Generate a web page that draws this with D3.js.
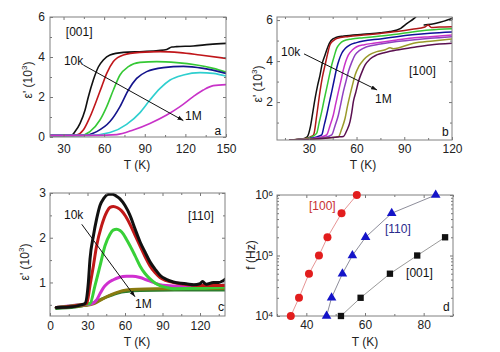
<!DOCTYPE html>
<html><head><meta charset="utf-8">
<script src="https://cdn.jsdelivr.net/npm/d3@7"></script>
<style>body{margin:0;background:#fff}svg{display:block;font-family:"Liberation Sans",Arial,sans-serif}</style>
</head><body><script>
// ---------- DATA ----------
// Panel a: [001], eps' (10^3) vs T (K), frequencies 10k -> 1M
const a001_f1 = [[20,0.08],[36,0.09],[38.5,0.27],[42.2,0.68],[45.9,1.35],[48.3,2.0],[52,2.85],[55.7,3.5],[59.4,3.85],[64.3,4.1],[74.2,4.23],[89,4.27],[100,4.32],[106.2,4.38],[110,4.5],[113.5,4.52],[125.8,4.55],[138.1,4.63],[150,4.68]];
const a001_f2 = [[20,0.08],[37,0.08],[39.7,0.1],[44.6,0.35],[49.5,1.0],[54.5,1.85],[58.2,2.52],[61.9,3.18],[66.8,3.77],[74.2,4.1],[86.5,4.23],[101.3,4.27],[116,4.22],[130.8,4.1],[150,3.93]];
const a001_f3 = [[20,0.08],[42.2,0.08],[49.5,0.27],[56.9,0.85],[61.9,1.52],[66.8,2.35],[71.7,3.1],[77.9,3.52],[86.5,3.73],[98.8,3.77],[113.5,3.72],[128.3,3.6],[140.6,3.43],[150,3.25]];
const a001_f4 = [[20,0.08],[44.6,0.08],[54.5,0.27],[64.3,0.77],[71.7,1.52],[77.9,2.35],[84,2.93],[91.4,3.27],[103.7,3.47],[118.5,3.53],[133.3,3.43],[150,3.18]];
const a001_f5 = [[20,0.08],[49.5,0.08],[64.3,0.22],[76.6,0.63],[86.5,1.22],[93.8,1.85],[101.3,2.43],[108.7,2.85],[118.5,3.1],[130.8,3.22],[140.6,3.18],[150,3.05]];
const a001_f6 = [[20,0.08],[54.5,0.08],[69.3,0.12],[81.5,0.35],[93.8,0.68],[106.2,1.1],[116,1.52],[125.8,2.02],[133.2,2.35],[140.6,2.57],[150,2.62]];

// Panel b: [100]
const b100_f1 = [[18,0.15],[26,0.2],[29,0.3],[31,0.8],[32.5,1.5],[34,2.2],[35.5,2.8],[37,3.3],[38.5,3.9],[40.2,4.3],[42,4.7],[44,5.0],[47,5.15],[52,5.22],[64,5.31],[75,5.38],[81,5.44],[87.8,5.6],[92,5.85],[96.2,6.08],[99,6.3],null,[102.5,5.76],[110,5.85],[115,5.95],[120,6.08]];
const b100_f2 = [[18,0.15],[28,0.22],[31,0.3],[33,0.4],[35,1.37],[37,2.5],[38.5,3.2],[40.2,3.8],[41.8,4.35],[43.3,4.8],[45.5,5.0],[47.5,5.1],[55,5.2],[64.3,5.27],[75,5.35],[85.3,5.44],[95,5.55],[103,5.66],[105,5.76],[107,5.64],[112,5.66],[120,5.68]];
const b100_f3 = [[18,0.15],[30,0.25],[33,0.35],[35,0.48],[36.5,1.0],[38.1,1.53],[39.6,2.1],[41.2,2.67],[42.8,3.25],[44.4,3.81],[46,4.25],[47.5,4.62],[49.5,4.85],[51.7,4.98],[57,5.08],[64.3,5.14],[75,5.22],[85.3,5.31],[95,5.42],[106,5.52],[120,5.58]];
const b100_f4 = [[18,0.15],[30,0.22],[35,0.3],[38.1,0.4],[39.6,0.85],[41.2,1.37],[42.8,1.95],[44.4,2.51],[46,3.1],[47.5,3.65],[49,4.05],[50.7,4.38],[53,4.62],[55.9,4.79],[60,4.9],[64.3,4.98],[75,5.08],[85.3,5.19],[95,5.28],[106.2,5.36],[120,5.42]];
const b100_f5 = [[18,0.15],[30,0.2],[38,0.3],[41.2,0.4],[43.3,0.85],[45.4,1.37],[47,1.95],[48.6,2.51],[50.2,3.05],[51.7,3.57],[53.3,4.0],[54.9,4.3],[57.5,4.55],[60.1,4.7],[65,4.8],[70.6,4.87],[85.3,5.03],[95,5.12],[106.2,5.19],[120,5.27]];
const b100_f6 = [[18,0.15],[30,0.2],[40,0.28],[44.4,0.4],[46.5,0.85],[48.6,1.37],[50.2,1.95],[51.7,2.51],[53.3,3.0],[54.9,3.49],[57,3.95],[59.1,4.3],[62,4.52],[66.4,4.7],[75,4.83],[85.3,4.95],[95,5.03],[106.2,5.11],[120,5.19]];
const b100_f7 = [[18,0.15],[30,0.2],[42,0.25],[48.6,0.31],[50.7,0.7],[52.8,1.21],[54.3,1.8],[55.9,2.35],[57.5,2.85],[59.1,3.32],[61.5,3.75],[64.3,4.05],[68,4.3],[72.7,4.46],[78,4.55],[81.1,4.65],[83,4.6],[95.8,4.87],[108,4.98],[120,5.08]];
const b100_f8 = [[18,0.15],[30,0.18],[42,0.25],[48,0.3],[51.7,0.32],[53.8,0.6],[55.9,1.05],[57,1.5],[58,2.02],[59.6,2.5],[61.2,3.0],[63.3,3.45],[65.4,3.81],[68.5,4.1],[72.7,4.3],[78,4.42],[85.3,4.54],[95,4.66],[106.2,4.79],[120,4.87]];

// Panel c: [110]
const c110_f1 = [[5,0.44],[15,0.45],[25,0.5],[28,0.53],[30.7,1.0],[32,1.52],[34.7,2.04],[37.3,2.42],[40,2.72],[43,2.88],[47,2.97],[50,2.97],[53,2.93],[56,2.87],[60,2.72],[64,2.5],[68,2.2],[72,1.91],[76,1.68],[80,1.46],[84,1.3],[88,1.16],[93,1.07],[98.7,1.01],[105,0.98],[109,0.97],[115,0.95],[120,0.97],[122,1.02],[125,0.96],[130.7,1.0],[135,1.0],[140,1.07]];
const c110_f2 = [[5,0.44],[25,0.5],[29.3,0.53],[32,0.93],[34.7,1.37],[37.3,1.82],[41.3,2.27],[45.3,2.57],[48,2.68],[50.7,2.7],[54,2.67],[57.3,2.6],[60.5,2.48],[64,2.3],[68,2.06],[72,1.82],[76,1.58],[80,1.37],[84,1.22],[88,1.11],[93,1.04],[98.7,1.0],[110,0.95],[125,0.93],[140,0.93]];
const c110_f3 = [[5,0.44],[25,0.5],[32,0.53],[36,0.93],[40,1.37],[44,1.82],[48,2.08],[50.5,2.17],[53.3,2.19],[56,2.16],[58.7,2.08],[61,1.97],[64,1.82],[68,1.6],[72,1.37],[76,1.2],[80,1.08],[84,0.99],[88,0.93],[93,0.89],[98.7,0.86],[120,0.87],[140,0.9]];
const c110_f4 = [[5,0.44],[25,0.5],[32,0.51],[37.3,0.61],[40,0.75],[42.7,0.88],[46,0.98],[50.7,1.06],[55,1.11],[61.3,1.14],[66,1.14],[72,1.11],[77,1.06],[82.7,1.0],[88,0.95],[93.3,0.93],[109,0.91],[140,0.91]];
const c110_f5 = [[5,0.44],[25,0.48],[30,0.49],[34.7,0.52],[40,0.6],[45.3,0.68],[50,0.74],[55,0.79],[61.3,0.83],[70,0.85],[90,0.86],[140,0.87]];
const c110_f6 = [[5,0.42],[20,0.45],[29.3,0.5],[35,0.55],[40,0.61],[45,0.67],[50.7,0.73],[55,0.77],[61.3,0.8],[72,0.82],[100,0.83],[140,0.83]];

// Panel d: f (Hz) vs T (K) of the peak
const dFreq = [1e4, 2e4, 5e4, 1e5, 2e5, 5e5, 1e6];
const d100_T = [34.7, 37.5, 40.9, 44.3, 47.2, 52.0, 57.2];
const d110_T = [46.9, 48.6, 52.3, 55.7, 60.2, 69.1, 84.1];
const d001_T = [51.8, 58.5, 68.5, 77.8, 87.3];

// tick values
const aXTicks = [30,60,90,120,150], aYTicks = [0,2,4,6];
const bXTicks = [30,60,90,120], bYTicks = [2,4,6];
const cXTicks = [0,30,60,90,120], cYTicks = [1,2,3];
const dXTicks = [40,60,80], dYTicks = [1e4,1e5,1e6];

// ---------- DRAWING ----------
const FONT = '"Liberation Sans",Arial,sans-serif';
const svg = d3.select('body').append('svg').attr('width',500).attr('height',352);
const defs = svg.append('defs');
defs.append('marker').attr('id','arr').attr('viewBox','0 0 10 10').attr('refX',10).attr('refY',5)
  .attr('markerWidth',6).attr('markerHeight',6).attr('orient','auto')
  .append('path').attr('d','M0,1.5L10,5L0,8.5Z').attr('fill','#111');

function panel(o){
  const x = d3.scaleLinear().domain(o.xd).range([o.l,o.r]);
  const y = (o.log ? d3.scaleLog() : d3.scaleLinear()).domain(o.yd).range([o.b,o.t]);
  const g = svg.append('g');
  const id = 'clip' + o.name;
  defs.append('clipPath').attr('id',id).append('rect')
    .attr('x',o.l).attr('y',o.t).attr('width',o.r-o.l).attr('height',o.b-o.t);
  const plot = g.append('g').attr('clip-path',`url(#${id})`);
  const axes = g.append('g');
  function ax(gen, tr, vals, size, fmt, pad){
    const a = axes.append('g').attr('transform',tr)
      .call(gen.tickValues(vals).tickSizeInner(size).tickSizeOuter(0).tickPadding(pad).tickFormat(fmt));
    a.select('.domain').remove();
    a.attr('font-size',12).attr('font-family',FONT);
    a.selectAll('line').attr('stroke','#777');
    a.selectAll('text').attr('fill','#222');
    return a;
  }
  const none = () => '';
  ax(d3.axisBottom(x), `translate(0,${o.b})`, o.xt, -3, o.xf||d3.format('d'), o.xpad);
  ax(d3.axisTop(x), `translate(0,${o.t})`, o.xt, -3, none, 0);
  ax(d3.axisBottom(x), `translate(0,${o.b})`, o.xm, -2, none, 0);
  ax(d3.axisTop(x), `translate(0,${o.t})`, o.xm, -2, none, 0);
  const yl = ax(d3.axisLeft(y), `translate(${o.l},0)`, o.yt, -3, o.yf||d3.format('d'), o.ypad);
  ax(d3.axisRight(y), `translate(${o.r},0)`, o.yt, -3, none, 0);
  ax(d3.axisLeft(y), `translate(${o.l},0)`, o.ym, -2, none, 0);
  ax(d3.axisRight(y), `translate(${o.r},0)`, o.ym, -2, none, 0);
  g.append('rect').attr('x',o.l).attr('y',o.t).attr('width',o.r-o.l).attr('height',o.b-o.t)
    .attr('fill','none').attr('stroke','#808080').attr('stroke-width',1);
  g.append('text').attr('x',o.xtx).attr('y',o.xty).attr('text-anchor','middle')
    .attr('font-size',12).attr('font-family',FONT).attr('fill','#222').text('T (K)');
  return {x, y, g, plot, yl};
}
function yTitle(xp, yp, isF){
  const t = svg.append('text').attr('transform',`translate(${xp},${yp}) rotate(-90)`)
    .attr('text-anchor','middle').attr('font-size',12).attr('font-family',FONT).attr('fill','#222');
  if(isF){ t.text('f (Hz)'); return; }
  t.append('tspan').text("\u03b5' (10");
  t.append('tspan').attr('dy',-5).attr('font-size',8).text('3');
  t.append('tspan').attr('dy',5).text(')');
}
function label(p, xv, yv, txt, color, size){
  p.g.append('text').attr('x',p.x(xv)).attr('y',p.y(yv)).attr('font-size',size||12)
    .attr('font-family',FONT).attr('fill',color||'#111').text(txt);
}
function arrow(p, x1, y1, x2, y2){
  p.g.append('line').attr('x1',p.x(x1)).attr('y1',p.y(y1)).attr('x2',p.x(x2)).attr('y2',p.y(y2))
    .attr('stroke','#111').attr('stroke-width',1).attr('marker-end','url(#arr)');
}
function curves(p, list, colors, w){
  const line = d3.line().defined(d => d != null).x(d => p.x(d[0])).y(d => p.y(d[1])).curve(d3.curveMonotoneX);
  list.forEach((s,i) => {
    p.plot.append('path').datum(s).attr('d',line).attr('fill','none')
      .attr('stroke',colors[i]).attr('stroke-width',w).attr('stroke-linejoin','round').attr('stroke-linecap','round');
  });
}

// Panel a
const pa = panel({name:'a', l:50, r:226, t:17, b:137, xd:[20,150], yd:[0,6],
  xt:aXTicks, xm:[45,75,105,135], yt:aYTicks, ym:[1,3,5], xpad:7, ypad:5, xtx:137, xty:169});
curves(pa, [a001_f1,a001_f2,a001_f3,a001_f4,a001_f5,a001_f6],
  ['#111111','#c0161a','#35c835','#14148c','#2fcfcf','#c832c8'], 1.6);
yTitle(32, 80);
label(pa, 31.7, 5.05, '[001]');
label(pa, 30.3, 3.6, '10k');
arrow(pa, 44.6, 3.6, 118.5, 0.82);
label(pa, 119.7, 0.85, '1M');
label(pa, 141.5, 0.1, 'a');

// Panel b
const pb = panel({name:'b', l:277, r:452, t:17, b:140, xd:[10,120], yd:[0.15,6.15],
  xt:bXTicks, xm:[15,45,75,105], yt:bYTicks, ym:[1,3,5], xpad:4.5, ypad:4, xtx:363, xty:169});
curves(pb, [b100_f1,b100_f2,b100_f3,b100_f4,b100_f5,b100_f6,b100_f7,b100_f8],
  ['#111111','#b01818','#35c835','#10109a','#c832c8','#9040c0','#9a9a2a','#5a1050'], 1.5);
yTitle(262, 84);
label(pb, 12.5, 4.25, '10k');
arrow(pb, 27, 4.35, 72.9, 2.59);
label(pb, 71.6, 1.95, '1M');
label(pb, 93, 3.32, '[100]');
label(pb, 113.7, 0.35, 'b');

// Panel c
const pc = panel({name:'c', l:50, r:225, t:193, b:316, xd:[0,140], yd:[0.25,3],
  xt:cXTicks, xm:[15,45,75,105,135], yt:cYTicks, ym:[0.5,1.5,2.5], xpad:5.5, ypad:4, xtx:137, xty:346});
curves(pc, [c110_f6,c110_f5,c110_f4,c110_f3,c110_f2,c110_f1],
  ['#2e7d2e','#8a7a10','#d030d0','#38d038','#c01818','#111111'], 3);
yTitle(29, 262);
label(pc, 11.2, 2.41, '10k');
arrow(pc, 25.4, 2.30, 68, 0.68);
label(pc, 68, 0.43, '1M');
label(pc, 110.4, 2.40, '[110]');
label(pc, 134.4, 0.36, 'c');

// Panel d
const pd = panel({name:'d', l:277, r:453, t:195, b:316, xd:[30,90], yd:[1e4,1e6], log:true,
  xt:dXTicks, xm:[30,50,70,90], yt:dYTicks,
  ym:[2e4,3e4,4e4,5e4,6e4,7e4,8e4,9e4,2e5,3e5,4e5,5e5,6e5,7e5,8e5,9e5], xpad:4.5, ypad:4, xtx:365, xty:346,
  yf: () => ''});
pd.yl.selectAll('.tick text').each(function(d){
  const t = d3.select(this);
  t.text('10');
  t.append('tspan').attr('dy','-0.45em').attr('font-size',8).text(Math.round(Math.log10(d)));
});
yTitle(255, 255, true);
const dl = d3.line().x(d => pd.x(d[0])).y(d => pd.y(d[1]));
const s100 = d100_T.map((t,i) => [t, dFreq[i]]);
const s110 = d110_T.map((t,i) => [t, dFreq[i]]);
const s001 = d001_T.map((t,i) => [t, dFreq[i]]);
pd.plot.append('path').datum(s100).attr('d',dl).attr('fill','none').attr('stroke','#e07a7a').attr('stroke-width',0.8);
pd.plot.append('path').datum(s110).attr('d',dl).attr('fill','none').attr('stroke','#707080').attr('stroke-width',0.8);
pd.plot.append('path').datum(s001).attr('d',dl).attr('fill','none').attr('stroke','#808080').attr('stroke-width',0.8);
pd.g.selectAll('circle.m').data(s100).enter().append('circle')
  .attr('cx',d => pd.x(d[0])).attr('cy',d => pd.y(d[1])).attr('r',4).attr('fill','#e21d1d');
const tri = d3.symbol().type(d3.symbolTriangle).size(40);
pd.g.selectAll('path.t').data(s110).enter().append('path').attr('d',tri)
  .attr('transform',d => `translate(${pd.x(d[0])},${pd.y(d[1])})`).attr('fill','#1414c8');
const sq = d3.symbol().type(d3.symbolSquare).size(40);
pd.g.selectAll('path.s').data(s001).enter().append('path').attr('d',sq)
  .attr('transform',d => `translate(${pd.x(d[0])},${pd.y(d[1])})`).attr('fill','#111');
label(pd, 40.9, 5.6e5, '[100]', '#c83232');
label(pd, 66.8, 2.35e5, '[110]', '#2a2a8c');
label(pd, 74, 4.4e4, '[001]', '#111');
label(pd, 86.6, 1.21e4, 'd');
</script></body></html>
